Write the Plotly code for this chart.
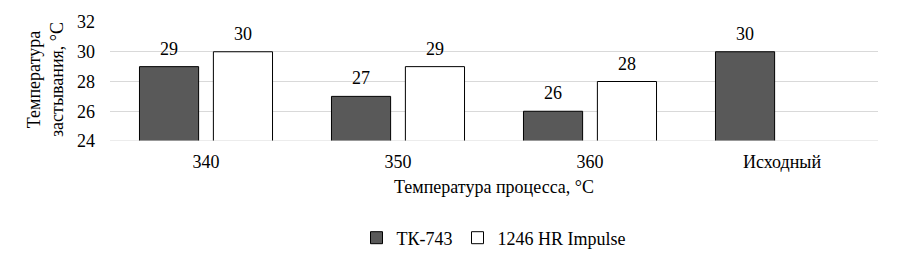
import plotly.graph_objects as go

categories = ["340", "350", "360", "Исходный"]
tk743 = [29, 27, 26, 30]
hr1246 = [30, 29, 28, None]
y_ticks = [24, 26, 28, 30, 32]

font = "Liberation Serif"
fs = 18

fig = go.Figure()
fig.add_trace(go.Bar(
    x=categories, y=tk743, name="ТК-743",
    marker=dict(color="#595959", line=dict(color="black", width=1)),
))
fig.add_trace(go.Bar(
    x=categories, y=hr1246, name="1246 HR Impulse",
    marker=dict(color="white", line=dict(color="black", width=1)),
))

ph = 273 - 22 - 132
pw = 900 - 110 - 22

annotations = [
    dict(text="Температура процесса, °C", x=(494 - 110) / pw, xref="paper",
         y=(141 - 187) / ph, yref="paper", yanchor="middle", xanchor="center",
         showarrow=False, font=dict(family=font, size=fs)),
    dict(text="Температура<br>застывания, °C", textangle=-90, xref="paper", yref="paper",
         x=(45 - 110) / pw, xanchor="center", y=(141 - 80) / ph, yanchor="middle",
         showarrow=False, font=dict(family=font, size=fs)),
]
# data labels placed through the axis scales (category index on the x axis)
for series, shift in ((tk743, -37), (hr1246, 37)):
    for i, val in enumerate(series):
        if val is None:
            continue
        annotations.append(dict(
            text=str(val), x=i, y=val, xref="x", yref="y", xshift=shift, yshift=6,
            yanchor="bottom", xanchor="center", showarrow=False,
            font=dict(family=font, size=fs, color="black")))

fig.update_layout(
    width=900, height=273,
    margin=dict(l=110, r=22, t=22, b=132),
    paper_bgcolor="white", plot_bgcolor="white",
    barmode="group", bargap=0.23, bargroupgap=0.2,
    font=dict(family=font, size=fs, color="black"),
    showlegend=True,
    legend=dict(orientation="h", x=0.5, xanchor="center", y=(141 - 238) / ph, yanchor="middle",
                font=dict(family=font, size=fs, color="black"), traceorder="normal",
                itemwidth=30, tracegroupgap=0),
    xaxis=dict(type="category", showgrid=False, showline=False, ticks="",
               tickfont=dict(family=font, size=fs), ticklabelstandoff=8),
    yaxis=dict(range=[24, 32], tickvals=y_ticks, showgrid=True, gridcolor="#d9d9d9",
               gridwidth=1, zeroline=False, showline=False, ticks="",
               tickfont=dict(family=font, size=fs), ticklabelstandoff=14),
    annotations=annotations,
)
fig.add_shape(type="line", xref="paper", yref="y", x0=0, x1=1, y0=24, y1=24,
              line=dict(color="#d9d9d9", width=1))

fig.write_html("out.html")
